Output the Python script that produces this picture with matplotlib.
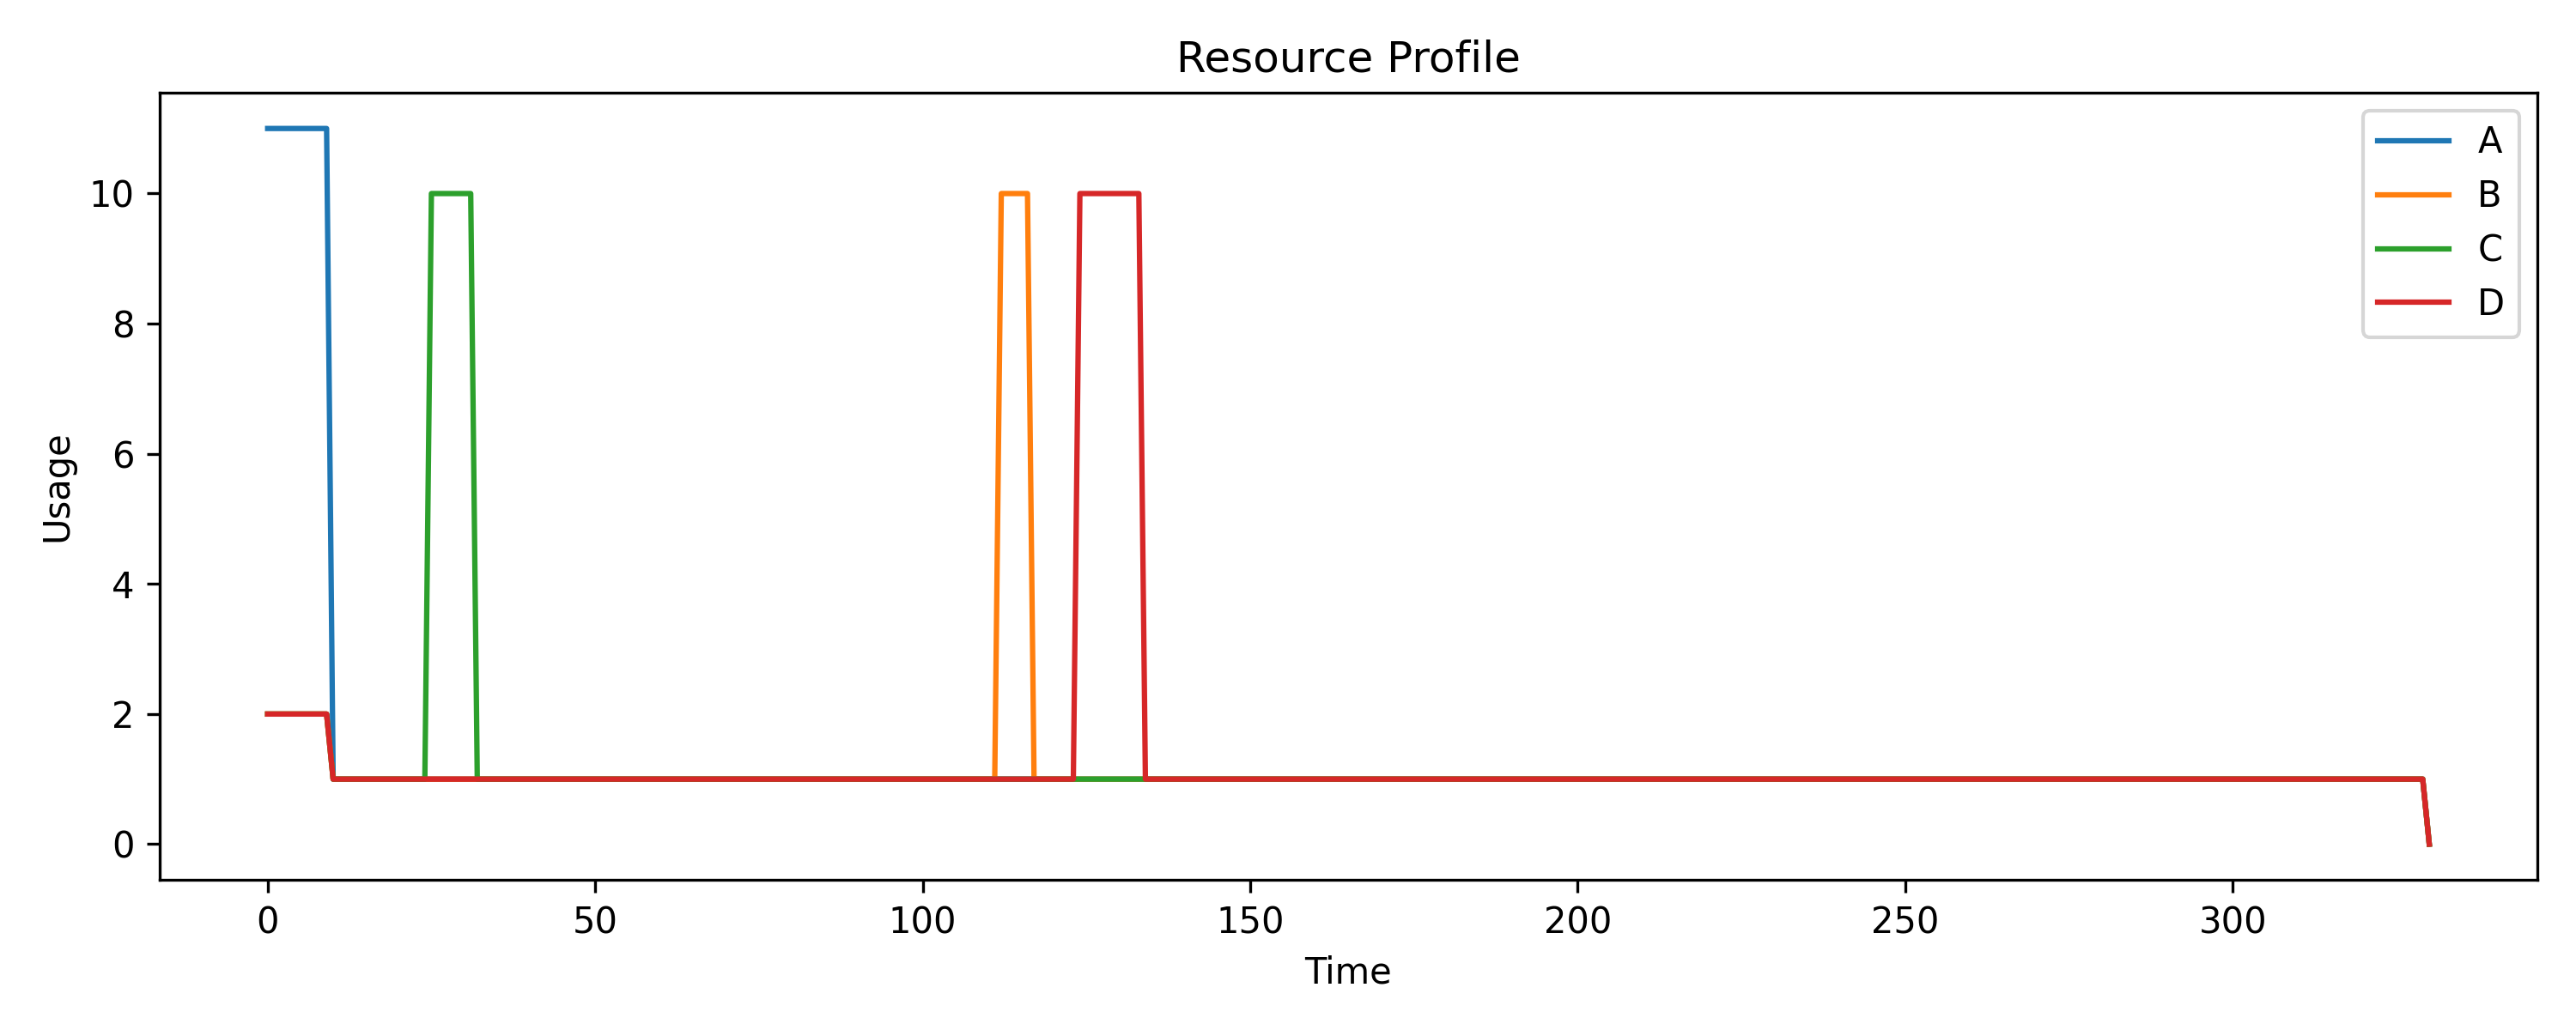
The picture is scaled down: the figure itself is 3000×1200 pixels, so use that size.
import matplotlib
matplotlib.use("Agg")
import matplotlib.pyplot as plt

# Perfil de uso por recurso: puntos de quiebre (tiempo, valor) de cada serie.
labels = ["A", "B", "C", "D"]

t_a = [0, 9, 10, 329, 330]
u_a = [11, 11, 1, 1, 0]

t_b = [0, 9, 10, 111, 112, 116, 117, 329, 330]
u_b = [2, 2, 1, 1, 10, 10, 1, 1, 0]

t_c = [0, 9, 10, 24, 25, 31, 32, 329, 330]
u_c = [2, 2, 1, 1, 10, 10, 1, 1, 0]

t_d = [0, 9, 10, 123, 124, 133, 134, 329, 330]
u_d = [2, 2, 1, 1, 10, 10, 1, 1, 0]

series = [(t_a, u_a), (t_b, u_b), (t_c, u_c), (t_d, u_d)]

fig, ax = plt.subplots(figsize=(10, 4), dpi=300)
for label, (t, u) in zip(labels, series):
    ax.plot(t, u, label=label)

ax.set_title("Resource Profile")
ax.set_xlabel("Time")
ax.set_ylabel("Usage")
ax.legend(loc="upper right")

fig.tight_layout()
fig.savefig("out.png")
